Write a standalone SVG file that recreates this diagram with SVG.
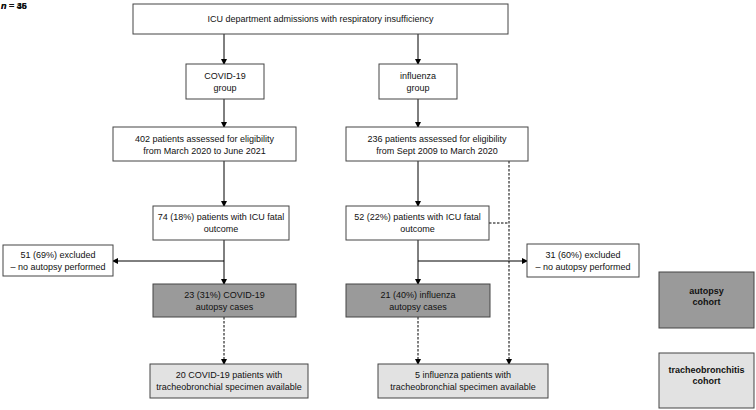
<svg xmlns="http://www.w3.org/2000/svg" width="756" height="410" viewBox="0 0 756 410">
<defs>
<marker id="ah" markerWidth="6" markerHeight="6" refX="5" refY="3" orient="auto" markerUnits="userSpaceOnUse">
<path d="M0,0 L6,3 L0,6 Z" fill="#000"/>
</marker>
<style>
.bx{stroke:#444;stroke-width:1}
.w{fill:#fff}
.d{fill:#9a9a9a}
.l{fill:#e2e2e2}
text{font-family:"Liberation Sans",Arial,sans-serif;font-size:9px;fill:#111;text-anchor:middle}
.b{font-weight:bold}
.c line{stroke:#000;stroke-width:1}
.c .ds{stroke-dasharray:2.5,1.5}
</style>
</defs>
<rect x="0" y="0" width="756" height="410" fill="#fff"/>
<g id="nlabel">
<text x="1" y="9" style="text-anchor:start;font-weight:bold"><tspan font-style="italic">n</tspan> = 35</text>
<text x="1" y="9" style="text-anchor:start;font-weight:bold"><tspan font-style="italic">n</tspan> = 46</text>
</g>
<g class="c" id="connectors">
<line x1="224" y1="34" x2="224" y2="64" marker-end="url(#ah)"/>
<line x1="418" y1="34" x2="418" y2="64" marker-end="url(#ah)"/>
<line x1="224" y1="99" x2="224" y2="127" marker-end="url(#ah)"/>
<line x1="418" y1="99" x2="418" y2="127" marker-end="url(#ah)"/>
<line x1="224" y1="161" x2="224" y2="206" marker-end="url(#ah)"/>
<line x1="418" y1="161" x2="418" y2="206" marker-end="url(#ah)"/>
<line x1="224" y1="240" x2="224" y2="284" marker-end="url(#ah)"/>
<line x1="418" y1="240" x2="418" y2="284" marker-end="url(#ah)"/>
<line x1="224" y1="261" x2="113" y2="261" marker-end="url(#ah)"/>
<line x1="418" y1="261" x2="527" y2="261" marker-end="url(#ah)"/>
<line class="ds" x1="224" y1="317" x2="224" y2="364" marker-end="url(#ah)"/>
<line class="ds" x1="418" y1="317" x2="418" y2="364" marker-end="url(#ah)"/>
<line class="ds" x1="509" y1="161" x2="509" y2="364" marker-end="url(#ah)"/>
<line class="ds" x1="489" y1="223" x2="509" y2="223"/>
</g>
<g id="top"><rect class="bx w" x="133" y="4" width="375" height="30"/><text x="320.5" y="22">ICU department admissions with respiratory insufficiency</text></g>
<g id="covidgroup"><rect class="bx w" x="186" y="64" width="78" height="35"/><text x="225" y="79">COVID-19</text><text x="225" y="91">group</text></g>
<g id="flugroup"><rect class="bx w" x="379" y="64" width="78" height="35"/><text x="418" y="79">influenza</text><text x="418" y="91">group</text></g>
<g id="covidelig"><rect class="bx w" x="113" y="127" width="183" height="34"/><text x="204.5" y="142">402 patients assessed for eligibility</text><text x="204.5" y="154">from March 2020 to June 2021</text></g>
<g id="fluelig"><rect class="bx w" x="346" y="127" width="182" height="34"/><text x="437" y="142">236 patients assessed for eligibility</text><text x="437" y="154">from Sept 2009 to March 2020</text></g>
<g id="covidfatal"><rect class="bx w" x="153" y="206" width="136" height="34"/><text x="221" y="220">74 (18%) patients with ICU  fatal</text><text x="221" y="232">outcome</text></g>
<g id="flufatal"><rect class="bx w" x="346" y="206" width="143" height="34"/><text x="417.5" y="220">52 (22%) patients with ICU  fatal</text><text x="417.5" y="232">outcome</text></g>
<g id="covidexcl"><rect class="bx w" x="3" y="245" width="110" height="31"/><text x="58" y="258">51 (69%) excluded</text><text x="58" y="270">– no autopsy performed</text></g>
<g id="fluexcl"><rect class="bx w" x="527" y="244" width="112" height="33"/><text x="583" y="258">31 (60%) excluded</text><text x="583" y="270">– no autopsy performed</text></g>
<g id="covidautopsy"><rect class="bx d" x="153" y="284" width="143" height="33"/><text x="224.5" y="298">23 (31%) COVID-19</text><text x="224.5" y="310">autopsy cases</text></g>
<g id="fluautopsy"><rect class="bx d" x="346" y="284" width="144" height="33"/><text x="418" y="298">21 (40%) influenza</text><text x="418" y="310">autopsy cases</text></g>
<g id="covidtracheo"><rect class="bx l" x="150" y="364" width="158" height="34"/><text x="229" y="378">20 COVID-19  patients with</text><text x="229" y="390">tracheobronchial specimen available</text></g>
<g id="flutracheo"><rect class="bx l" x="378" y="364" width="170" height="34"/><text x="463" y="378">5 influenza patients with</text><text x="463" y="390">tracheobronchial specimen available</text></g>
<g id="legendautopsy"><rect class="bx d" x="659" y="272" width="95" height="56"/><text class="b" x="706.5" y="294">autopsy</text><text class="b" x="706.5" y="305">cohort</text></g>
<g id="legendtracheo"><rect class="bx l" x="659" y="353" width="95" height="55"/><text class="b" x="706.5" y="373">tracheobronchitis</text><text class="b" x="706.5" y="384">cohort</text></g>
</svg>
